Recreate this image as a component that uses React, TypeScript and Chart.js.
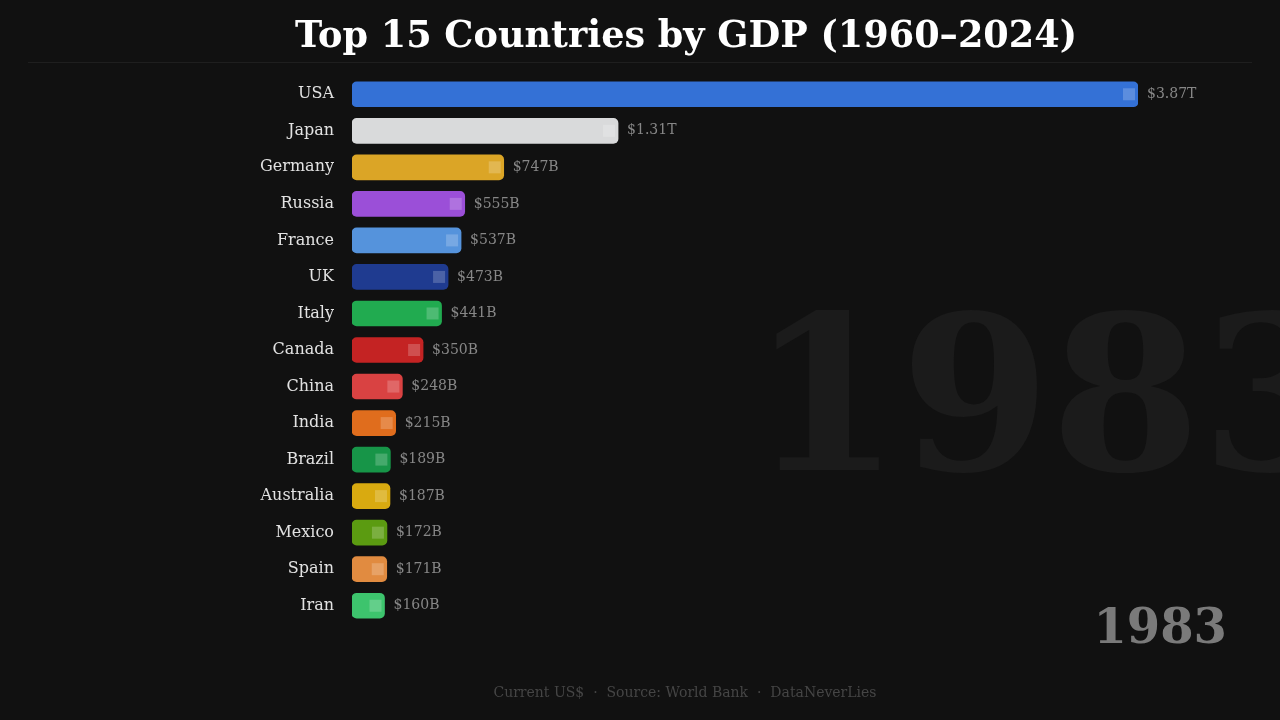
import React, { useEffect, useRef } from "react";
import { Chart, registerables } from "chart.js";

Chart.register(...registerables);

// GDP in billions of current US$, year 1983
const countries = [
  "USA", "Japan", "Germany", "Russia", "France", "UK", "Italy", "Canada",
  "China", "India", "Brazil", "Australia", "Mexico", "Spain", "Iran",
];
const gdpBillions = [
  3870, 1310, 747, 555, 537, 473, 441, 350, 248, 215, 189, 187, 172, 171, 160,
];
const barColors = [
  "#3471d6", "#d9dadb", "#dba526", "#9b4fd8", "#5593dc", "#1f3b90",
  "#21ab50", "#c42323", "#d94242", "#e06d1d", "#179548", "#d9aa10",
  "#5b9b11", "#e18b40", "#3dc46d",
];
const titleText = "Top 15 Countries by GDP (1960\u20132024)";
const yearText = "1983";
const footerText = "Current US$  \u00b7  Source: World Bank  \u00b7  DataNeverLies";

const formatValue = (v: number) =>
  v >= 1000 ? `$${(v / 1000).toFixed(2)}T` : `$${v}B`;

const SERIF = "'DejaVu Serif', serif";

// Background watermark, title, rule, footer and year stamp
const decorPlugin = {
  id: "decor",
  beforeDraw(chart: any) {
    const ctx = chart.ctx as CanvasRenderingContext2D;
    ctx.save();
    ctx.fillStyle = "#111111";
    ctx.fillRect(0, 0, chart.width, chart.height);

    ctx.fillStyle = "#1b1b1b";
    ctx.font = `bold 216px ${SERIF}`;
    ctx.textAlign = "left";
    ctx.textBaseline = "alphabetic";
    ctx.fillText(yearText, 750, 470);

    ctx.fillStyle = "#ffffff";
    ctx.font = `bold 36.6px ${SERIF}`;
    ctx.textAlign = "center";
    ctx.fillText(titleText, 686, 47);

    ctx.strokeStyle = "#1f1f1f";
    ctx.lineWidth = 1;
    ctx.beginPath();
    ctx.moveTo(28, 62.5);
    ctx.lineTo(1252, 62.5);
    ctx.stroke();

    ctx.fillStyle = "#454545";
    ctx.font = `14px ${SERIF}`;
    ctx.fillText(footerText, 685, 697);

    ctx.fillStyle = "#7a7a7a";
    ctx.font = `bold 48px ${SERIF}`;
    ctx.textAlign = "right";
    ctx.fillText(yearText, 1227, 643);
    ctx.restore();
  },
};

// End-of-bar marker squares and value labels
const barLabelPlugin = {
  id: "barLabels",
  afterDatasetsDraw(chart: any) {
    const ctx = chart.ctx as CanvasRenderingContext2D;
    const meta = chart.getDatasetMeta(0);
    ctx.save();
    meta.data.forEach((bar: any, i: number) => {
      const end = bar.x;
      const cy = bar.y;
      ctx.fillStyle = "rgba(255,255,255,0.2)";
      ctx.fillRect(end - 15, cy - 6, 12, 12);
      ctx.fillStyle = "#878787";
      ctx.font = `14px ${SERIF}`;
      ctx.textAlign = "left";
      ctx.textBaseline = "middle";
      ctx.fillText(formatValue(gdpBillions[i]), end + 9, cy);
    });
    ctx.restore();
  },
};

export default function App() {
  const canvasRef = useRef<HTMLCanvasElement | null>(null);

  useEffect(() => {
    if (!canvasRef.current) return;
    const chart = new Chart(canvasRef.current, {
      type: "bar",
      data: {
        labels: countries,
        datasets: [
          {
            data: gdpBillions,
            backgroundColor: barColors,
            borderRadius: 5,
            borderSkipped: false,
            barThickness: 25,
          },
        ],
      },
      options: {
        indexAxis: "y",
        responsive: false,
        animation: false,
        devicePixelRatio: 1,
        layout: { padding: { top: 76, bottom: 96, right: 142, left: 0 } },
        plugins: {
          legend: { display: false },
          tooltip: { enabled: false },
        },
        scales: {
          x: {
            display: false,
            min: 0,
            max: Math.max(...gdpBillions),
          },
          y: {
            afterFit: (scale: any) => {
              scale.width = 352;
            },
            grid: { display: false, drawTicks: false },
            border: { display: false },
            ticks: {
              padding: 18,
              color: "#e2e2e2",
              font: { family: "'DejaVu Serif', serif", size: 16 },
            },
          },
        },
      },
      plugins: [decorPlugin, barLabelPlugin],
    });
    return () => chart.destroy();
  }, []);

  return (
    <div
      style={{
        position: "absolute",
        left: 0,
        top: 0,
        width: 1280,
        height: 720,
        background: "#111111",
        overflow: "hidden",
      }}
    >
      <canvas ref={canvasRef} width={1280} height={720} />
    </div>
  );
}
